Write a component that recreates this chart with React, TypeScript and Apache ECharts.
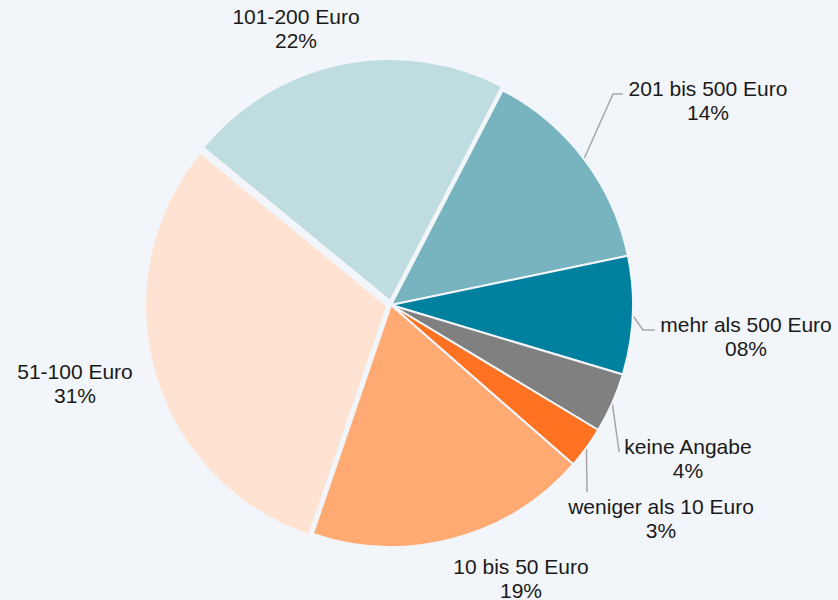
import React, { useEffect, useRef } from "react";
import * as echarts from "echarts";

const categories = [
  "201 bis 500 Euro",
  "mehr als 500 Euro",
  "keine Angabe",
  "weniger als 10 Euro",
  "10 bis 50 Euro",
  "51-100 Euro",
  "101-200 Euro",
];
const values = [14.1, 7.9, 4.0, 2.8, 18.8, 30.7, 21.7];
const percentLabels = ["14%", "08%", "4%", "3%", "19%", "31%", "22%"];
const colors = ["#78b4c0", "#00809f", "#808080", "#ff7221", "#ffaa73", "#ffe3d2", "#bfdce1"];
const exploded = [false, false, false, false, false, true, true];
const withLine = [true, true, true, true, false, false, false];

const BG = "#f2f5f9";

// label anchor (centre of text block) and label-line bend points
const labelPos: [number, number][] = [
  [708, 100],
  [746, 336],
  [688, 458],
  [661, 518],
  [521, 578],
  [75, 383],
  [296, 28],
];
const lineBends: ([number, number][] | null)[] = [
  [[613, 94], [623, 94]],
  [[643, 330], [655, 330]],
  [[619, 451], [620, 451]],
  [[587, 492], [587, 492]],
  null,
  null,
  null,
];

export default function App() {
  const ref = useRef<HTMLDivElement>(null);
  useEffect(() => {
    if (!ref.current) return;
    const chart = echarts.init(ref.current, null, { renderer: "svg" });
    const cx = 391;
    const cy = 305;
    const r = 242;
    const total = values.reduce((a, b) => a + b, 0);
    const startDeg = 62.5; // ECharts convention (ccw from 3 o'clock)
    const startPts: [number, number][] = [];
    let acc = 0;
    values.forEach((v) => {
      const mid = acc + v / 2;
      acc += v;
      const a = ((startDeg - (mid / total) * 360) * Math.PI) / 180;
      startPts.push([cx + r * Math.cos(a), cy - r * Math.sin(a)]);
    });

    chart.setOption({
      animation: false,
      backgroundColor: BG,
      series: [
        {
          // visible slices (two of them pulled out)
          type: "pie",
          center: [cx, cy],
          radius: r,
          startAngle: startDeg,
          clockwise: true,
          selectedMode: "multiple",
          selectedOffset: 4,
          emphasis: { disabled: true },
          itemStyle: { borderColor: BG, borderWidth: 2 },
          label: { show: false },
          labelLine: { show: false },
          data: categories.map((name, i) => ({
            name,
            value: values[i],
            selected: exploded[i],
            itemStyle: { color: colors[i] },
            select: { itemStyle: { color: colors[i] }, label: { show: false } },
          })),
        },
        {
          // label layer, same geometry, invisible sectors
          type: "pie",
          center: [cx, cy],
          radius: r,
          startAngle: startDeg,
          clockwise: true,
          silent: true,
          emphasis: { disabled: true },
          itemStyle: { color: "rgba(0,0,0,0)", borderWidth: 0 },
          label: {
            show: true,
            position: "outside",
            fontFamily: "'Liberation Sans', Arial, sans-serif",
            fontSize: 21,
            lineHeight: 24,
            color: "#1a1a1a",
            align: "center",
            formatter: (p: any) => `${p.name}\n${percentLabels[p.dataIndex]}`,
          },
          labelLine: {
            show: true,
            length: 10,
            length2: 10,
            lineStyle: { color: "#a6a6a6", width: 1.5 },
          },
          labelLayout: (params: any) => {
            const i = params.dataIndex;
            const res: any = {
              x: labelPos[i][0],
              y: labelPos[i][1],
              align: "center",
              verticalAlign: "middle",
            };
            const b = lineBends[i];
            if (b) {
              res.labelLinePoints = [startPts[i], b[0], b[1]];
            }
            return res;
          },
          data: categories.map((name, i) => ({
            name,
            value: values[i],
            labelLine: { show: withLine[i] },
          })),
        },
      ],
    });
    return () => chart.dispose();
  }, []);
  return (
    <div
      ref={ref}
      style={{ position: "absolute", left: 0, top: 0, width: 838, height: 600 }}
    />
  );
}
